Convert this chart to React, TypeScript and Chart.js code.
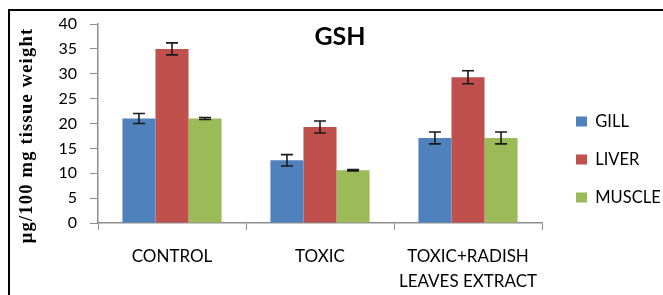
import React, { useEffect, useRef } from "react";
import { Chart, registerables } from "chart.js";

Chart.register(...registerables);

const categories: (string | string[])[] = ["CONTROL", "TOXIC", ["TOXIC+RADISH", "LEAVES EXTRACT"]];
const gillValues = [21, 12.6, 17.1];
const gillErrors = [1.0, 1.15, 1.2];
const liverValues = [35, 19.3, 29.3];
const liverErrors = [1.2, 1.2, 1.3];
const muscleValues = [21, 10.6, 17.1];
const muscleErrors = [0.2, 0.12, 1.2];
const yTicks = [0, 5, 10, 15, 20, 25, 30, 35, 40];
const chartTitle = "GSH";
const yTitle = "μg/100 mg tissue weight";

const errorSets = [gillErrors, liverErrors, muscleErrors];

const AXIS = "#8e8e8e";

const errorBarPlugin = {
  id: "errorBars",
  afterDatasetsDraw(chart: any) {
    const ctx = chart.ctx;
    const y = chart.scales.y;
    ctx.save();
    ctx.strokeStyle = "#1a1a1a";
    ctx.lineWidth = 1.6;
    chart.data.datasets.forEach((ds: any, i: number) => {
      const meta = chart.getDatasetMeta(i);
      const errs = errorSets[i];
      meta.data.forEach((bar: any, j: number) => {
        const v = ds.data[j];
        const e = errs[j];
        const x = bar.x;
        const yt = y.getPixelForValue(v + e);
        const yb = y.getPixelForValue(v - e);
        const cap = 6;
        ctx.beginPath();
        ctx.moveTo(x, yt);
        ctx.lineTo(x, yb);
        ctx.moveTo(x - cap, yt);
        ctx.lineTo(x + cap, yt);
        ctx.moveTo(x - cap, yb);
        ctx.lineTo(x + cap, yb);
        ctx.stroke();
      });
    });
    ctx.restore();
  },
};

const textPlugin = {
  id: "texts",
  afterDraw(chart: any) {
    const ctx = chart.ctx;
    const a = chart.chartArea;
    ctx.save();
    ctx.fillStyle = "#000";
    ctx.font = "bold 25px Lato";
    ctx.textAlign = "center";
    ctx.textBaseline = "middle";
    ctx.fillText(chartTitle, a.left + (a.right - a.left) * 0.545, a.top + 13);
    ctx.restore();

    ctx.save();
    ctx.fillStyle = "#000";
    ctx.font = "bold 18.5px 'Liberation Serif'";
    (ctx as any).letterSpacing = "1.2px";
    ctx.textAlign = "center";
    ctx.textBaseline = "middle";
    ctx.translate(27, a.top + (a.bottom - a.top) * 0.56);
    ctx.rotate(-Math.PI / 2);
    ctx.fillText(yTitle, 0, 0);
    ctx.restore();
  },
};

export default function App() {
  const ref = useRef<HTMLCanvasElement>(null);
  useEffect(() => {
    document.documentElement.style.overflow = "hidden";
    const chart = new Chart(ref.current!, {
      type: "bar",
      data: {
        labels: categories,
        datasets: [
          { label: "GILL", data: gillValues, backgroundColor: "#4F81BD" },
          { label: "LIVER", data: liverValues, backgroundColor: "#C0504D" },
          { label: "MUSCLE", data: muscleValues, backgroundColor: "#9BBB59" },
        ],
      },
      options: {
        animation: false,
        responsive: false,
        events: [],
        layout: { padding: { top: 24, left: 0, right: 0, bottom: 0 } },
        datasets: { bar: { barPercentage: 1, categoryPercentage: 0.67 } } as any,
        scales: {
          x: {
            grid: { display: true, drawOnChartArea: false, drawTicks: true, tickLength: 7, color: AXIS, offset: true },
            border: { display: true, color: AXIS, width: 1.5 },
            ticks: {
              color: "#000",
              font: { family: "Lato", size: 17, lineHeight: 1.47 },
              padding: 14,
              maxRotation: 0,
              autoSkip: false,
            },
            afterFit: (s: any) => {
              s.height = 72;
            },
          },
          y: {
            min: 0,
            max: 40,
            afterBuildTicks: (s: any) => {
              s.ticks = yTicks.map((v) => ({ value: v }));
            },
            grid: { display: true, drawOnChartArea: false, drawTicks: true, tickLength: 8, color: AXIS },
            border: { display: true, color: AXIS, width: 1.5 },
            ticks: { color: "#000", font: { family: "Lato", size: 16 }, padding: 13 },
            afterFit: (s: any) => {
              s.width = 98;
            },
          },
          y2: {
            position: "right",
            display: true,
            grid: { display: false },
            border: { display: false },
            ticks: { display: false },
            afterFit: (s: any) => {
              s.width = 12.5;
            },
          },
        },
        plugins: {
          legend: {
            position: "right",
            maxWidth: 108.5,
            labels: {
              boxWidth: 11,
              boxHeight: 10,
              padding: 21.5,
              color: "#000",
              font: { family: "Lato", size: 16.5 },
            },
          },
          title: { display: false },
          tooltip: { enabled: false },
        },
      } as any,
      plugins: [errorBarPlugin, textPlugin],
    });
    return () => chart.destroy();
  }, []);
  return (
    <div style={{ position: "fixed", left: 0, top: 0, width: 663, height: 295, background: "#fff" }}>
      <canvas ref={ref} width={663} height={295} style={{ display: "block" }} />
      <div
        style={{
          position: "absolute",
          left: 8,
          top: 9,
          width: 700,
          height: 400,
          borderLeft: "2px solid #000",
          borderTop: "2px solid #000",
          pointerEvents: "none",
        }}
      />
    </div>
  );
}
